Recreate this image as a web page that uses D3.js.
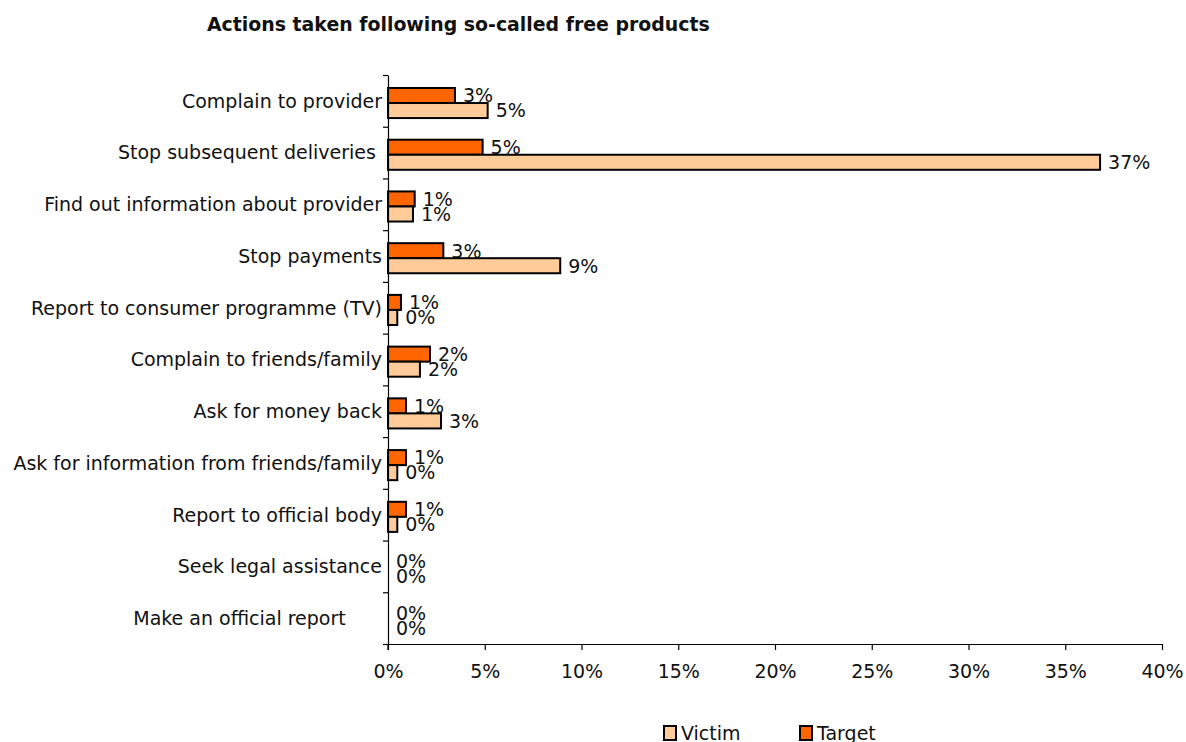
<!DOCTYPE html>
<html>
<head>
<meta charset="utf-8">
<script src="https://cdn.jsdelivr.net/npm/d3@7"></script>
<style>
  html, body { margin: 0; padding: 0; background: #fff; }
  svg text { font-family: "DejaVu Sans", Verdana, sans-serif; fill: #111; white-space: pre; }
</style>
</head>
<body>
<svg id="chart" width="1186" height="742"></svg>
<script>
// Survey answers: share of respondents (%) taking each action
const categories = [
  "Complain to provider",
  "Stop subsequent deliveries ",
  "Find out information about provider",
  "Stop payments",
  "Report to consumer programme (TV)",
  "Complain to friends/family",
  "Ask for money back",
  "Ask for information from friends/family",
  "Report to official body",
  "Seek legal assistance",
  "Make an official report      "
];
const victimValues = [5.15, 36.8, 1.29, 8.9, 0.48, 1.65, 2.74, 0.48, 0.48, 0, 0];
const targetValues = [3.46, 4.89, 1.38, 2.86, 0.67, 2.17, 0.93, 0.93, 0.93, 0, 0];
const seriesNames = ["Victim", "Target"];
const xTicks = [0, 5, 10, 15, 20, 25, 30, 35, 40];
const titleText = "Actions taken following so-called free products";

const colors = { Victim: "#FFCC99", Target: "#FF6600" };

const svg = d3.select("#chart");
const plot = { left: 388, right: 1162, top: 75, bottom: 644 };
const fontSize = "19px";

const x = d3.scaleLinear().domain([0, 40]).range([plot.left, plot.right]);
const y = d3.scaleBand().domain(categories).range([plot.top, plot.bottom]).padding(0);
// Target bar sits above the Victim bar inside each category
const sub = d3.scaleBand().domain(["Target", "Victim"]).range([0, y.bandwidth()])
  .paddingInner(0).paddingOuter(0.72).align(0.6);

const rows = categories.map((c, i) => ({
  cat: c,
  Victim: victimValues[i],
  Target: targetValues[i]
}));

// Title
svg.append("text")
  .attr("x", 207).attr("y", 31)
  .style("font-family", "'DejaVu Sans', Verdana, sans-serif")
  .style("font-weight", "bold")
  .style("font-size", "18.9px")
  .text(titleText);

// Bars
const groups = svg.append("g").selectAll("g")
  .data(rows).join("g")
  .attr("transform", d => `translate(0,${y(d.cat)})`);

["Target", "Victim"].forEach(s => {
  groups.filter(d => d[s] > 0).append("rect")
    .attr("x", x(0))
    .attr("y", sub(s))
    .attr("width", d => x(d[s]) - x(0))
    .attr("height", sub.bandwidth())
    .attr("fill", colors[s])
    .attr("stroke", "#000")
    .attr("stroke-width", 2);

  groups.append("text")
    .attr("x", d => x(d[s]) + 8)
    .attr("y", sub(s) + sub.bandwidth() / 2)
    .attr("dy", "0.36em")
    .style("font-size", fontSize)
    .text(d => Math.round(d[s]) + "%");
});

// Vertical axis with ticks at category boundaries
const yBound = d3.scaleLinear().domain([0, categories.length]).range([plot.top, plot.bottom]);
svg.append("g")
  .attr("transform", `translate(${plot.left},0)`)
  .call(d3.axisLeft(yBound).tickValues(d3.range(0, categories.length + 1)).tickFormat("").tickSize(5).tickSizeOuter(0))
  .call(g => g.selectAll("line, path").attr("stroke", "#000").attr("stroke-width", 1.2));

// Category labels
svg.append("g").selectAll("text")
  .data(categories).join("text")
  .attr("x", plot.left - 6)
  .attr("y", d => y(d) + y.bandwidth() / 2)
  .attr("dy", "0.36em")
  .attr("text-anchor", "end")
  .style("font-size", fontSize)
  .text(d => d);

// Horizontal axis
svg.append("g")
  .attr("transform", `translate(0,${plot.bottom})`)
  .call(d3.axisBottom(x).tickValues(xTicks).tickFormat(d => d + "%").tickSize(6).tickSizeOuter(0).tickPadding(15))
  .call(g => g.selectAll("line, path").attr("stroke", "#000").attr("stroke-width", 1.2))
  .call(g => g.selectAll("text").style("font-size", fontSize).style("font-family", "'DejaVu Sans', sans-serif").attr("fill", "#111"));

// Extend the vertical axis a little below the baseline
svg.append("line")
  .attr("x1", x(0)).attr("x2", x(0))
  .attr("y1", plot.bottom).attr("y2", plot.bottom + 6)
  .attr("stroke", "#000").attr("stroke-width", 1.2);

// Legend
const legendX = { Victim: 664, Target: 800 };
const legend = svg.append("g").selectAll("g")
  .data(seriesNames).join("g")
  .attr("transform", d => `translate(${legendX[d]},726)`);
legend.append("rect")
  .attr("width", 12).attr("height", 14)
  .attr("fill", d => colors[d])
  .attr("stroke", "#000").attr("stroke-width", 2);
legend.append("text")
  .attr("x", 17).attr("y", 14)
  .style("font-size", fontSize)
  .text(d => d);
</script>
</body>
</html>
